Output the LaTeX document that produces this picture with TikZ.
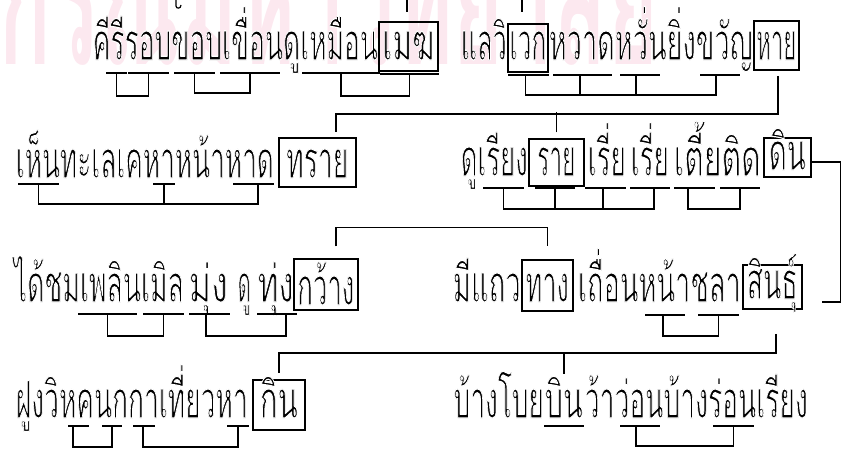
\documentclass[tikz,border=0pt]{standalone}
\usepackage{fontspec}
\usepackage{graphicx}
\newfontfamily\thaifont[Script=Thai]{Loma}
\newcommand{\thinon}{\special{pdf:literal direct q 2 Tr 1 1 1 RG 1.2 w 1 j}}
\newcommand{\thinoff}{\special{pdf:literal direct Q}}
\newcommand{\fitw}[2]{\thinon\resizebox{#1pt}{\height}{#2}\thinoff}
\newcommand{\fitwm}[2]{\resizebox{#1pt}{\height}{#2}}
\definecolor{wmpink}{RGB}{252,232,239}
\tikzset{
  txt/.style={anchor=base west, inner sep=0pt, font=\thaifont\fontsize{52}{56}\selectfont},
  wbox/.style={draw, inner sep=0pt, anchor=base west, font=\thaifont\fontsize{52}{56}\selectfont},
  ul/.style={inner sep=0pt, minimum height=0pt, anchor=west},
}
\begin{document}
\begin{tikzpicture}[x=1pt,y=-1pt,line width=1.5pt]
\useasboundingbox (0,0) rectangle (850,450);
% watermark
\node[anchor=base west, inner sep=0pt, text=wmpink, font=\thaifont\bfseries\fontsize{190}{200}\selectfont] (wm) at (-2,64) {\fitwm{660}{กรณ์มหาวิทยาลัย}};
% remnant of previous line
\draw[line width=1.2pt] (176,0) -- (176,6) .. controls (176,9) and (181,9) .. (181,5);
\coordinate (top1) at (407,0);
\coordinate (top2) at (522,0);
\draw (top1) -- ++(0,12);
\draw (top2) -- ++(0,12);

% ---------- row 1
\node[txt] (r1a) at (92,60) {\fitw{285}{คีรีรอบขอบเขื่อนดูเหมือน}};
\node[wbox, minimum width=59pt, text height=38pt, text depth=11pt] (megh) at (378,60) {\fitw{52}{เมฆ}};
\node[txt] (r1b) at (460,60) {\fitw{46}{แลวิ}};
\node[wbox, minimum width=40pt, text height=36pt, text depth=12pt] (wek) at (507,60) {\fitw{37}{เวก}};
\node[txt] (r1c) at (548,60) {\fitw{204}{หวาดหวั่นยิ่งขวัญ}};
\node[wbox, minimum width=45pt, text height=39pt, text depth=10pt] (hai) at (753,60) {\fitw{40}{หาย}};

% ---------- row 2
\node[txt] (r2a) at (15,178) {\fitw{258}{เห็นทะเลเคหาหน้าหาด}};
\node[wbox, minimum width=77pt, text height=40pt, text depth=9pt] (sai) at (278,178) {\fitw{62}{ทราย}};
\node[txt] (r2b) at (460,176) {\fitw{67}{ดูเรียง}};
\node[wbox, minimum width=55pt, text height=37pt, text depth=10pt] (raai) at (528,176) {\fitw{38}{ราย}};
\node[txt] (r2c) at (587,176) {\fitw{38}{เรี่ย}};
\node[txt] (r2d) at (630,176) {\fitw{38}{เรี่ย}};
\node[txt] (r2e) at (673,176) {\fitw{87}{เตี้ยติด}};
\node[wbox, minimum width=47pt, text height=32pt, text depth=7pt] (din) at (763,170) {\fitw{37}{ดิน}};

% ---------- row 3
\node[txt] (r3a) at (13,302) {\fitw{170}{ได้ชมเพลินเมิล}};
\node[txt] (r3b) at (188,302) {\fitw{39}{มุ่ง}};
\node[txt] (r3c) at (237,302) {\fitw{13}{ดู}};
\node[txt] (r3d) at (257,302) {\fitw{36}{ทุ่ง}};
\node[wbox, minimum width=64pt, text height=46pt, text depth=5pt] (kwang) at (293,305) {\fitw{57}{กว้าง}};
\node[txt] (r3e) at (452,302) {\fitw{68}{มีแถว}};
\node[wbox, minimum width=51pt, text height=42pt, text depth=9pt] (thang) at (521,302) {\fitw{43}{ทาง}};
\node[txt] (r3f) at (577,302) {\fitw{163}{เถื่อนหน้าชลา}};
\node[wbox, minimum width=59pt, text height=34pt, text depth=10pt] (sin) at (742,299) {\fitw{51}{สินธุ์}};

% ---------- row 4
\node[txt] (r4a) at (15,418) {\fitw{232}{ฝูงวิหคนกกาเที่ยวหา}};
\node[wbox, minimum width=52pt, text height=38pt, text depth=12pt] (kin) at (252,418) {\fitw{38}{กิน}};
\node[txt] (r4b) at (453,418) {\fitw{90}{บ้างโบย}};
\node[txt] (bin) at (544,418) {\fitw{38}{บิน}};
\node[txt] (r4c) at (584,418) {\fitw{223}{ว้าว่อนบ้างร่อนเรียง}};

% ---------- underlines
\node[ul, minimum width=19pt] (u1) at (106,73) {};
\node[ul, minimum width=39pt] (u2) at (128,73) {};
\node[ul, minimum width=39pt] (u3) at (174,73) {};
\node[ul, minimum width=58pt] (u4) at (220,73) {};
\node[ul, minimum width=76pt] (u5) at (302,73) {};
\node[ul, minimum width=57pt] (u6) at (380,74) {};
\node[ul, minimum width=39pt] (u7) at (508,75) {};
\node[ul, minimum width=57pt] (u8) at (553,75) {};
\node[ul, minimum width=38pt] (u9) at (620,75) {};
\node[ul, minimum width=38pt] (u10) at (700,75) {};
\node[ul, minimum width=39pt] (u11) at (18,184) {};
\node[ul, minimum width=20pt] (u12) at (153,184) {};
\node[ul, minimum width=39pt] (u13) at (233,184) {};
\node[ul, minimum width=39pt] (u14) at (483,188) {};
\node[ul, minimum width=38pt] (u15) at (535,188) {};
\node[ul, minimum width=39pt] (u16) at (585,188) {};
\node[ul, minimum width=38pt] (u17) at (630,188) {};
\node[ul, minimum width=39pt] (u18) at (674,188) {};
\node[ul, minimum width=38pt] (u19) at (720,188) {};
\node[ul, minimum width=57pt] (u20) at (78,314) {};
\node[ul, minimum width=39pt] (u21) at (143,314) {};
\node[ul, minimum width=39pt] (u22) at (189,314) {};
\node[ul, minimum width=38pt] (u23) at (257,314) {};
\node[ul, minimum width=38pt] (u24) at (645,315) {};
\node[ul, minimum width=39pt] (u25) at (698,315) {};
\node[ul, minimum width=19pt] (u26) at (68,426) {};
\node[ul, minimum width=18pt] (u27) at (102,426) {};
\node[ul, minimum width=20pt] (u28) at (133,426) {};
\node[ul, minimum width=20pt] (u29) at (227,426) {};
\node[ul, minimum width=38pt] (u30) at (544,426) {};
\node[ul, minimum width=38pt] (u31) at (620,426) {};
\node[ul, minimum width=39pt] (u32) at (713,426) {};
\foreach \i in {1,...,32} \draw (u\i.west) -- (u\i.east);

% ---------- brackets
\draw (u1.south) -- ++(0,22) -| (u2.south);
\draw (u3.south) -- ++(0,19) -| (u4.south);
\draw (u5.south) -- ++(0,22) -| ([yshift=1pt]u6.south);
\draw ([xshift=-3pt]u7.south) -- ++(0,19) -| ([xshift=-4pt]u10.south);
\draw ([xshift=-2.5pt]u8.south) -- ++(0,19);
\draw ([xshift=-4pt]u9.south) -- ++(0,19);
\draw (u11.south) -- ++(0,19) -| ([xshift=4.5pt]u13.south);
\draw (u12.south) -- ++(0,19);
\draw (u14.south) -- ++(0,20) -| ([xshift=4pt]u17.south);
\draw (u15.south) -- ++(0,20);
\draw ([xshift=-2.5pt]u16.south) -- ++(0,20);
\draw ([xshift=-6.5pt]u18.south) -- ++(0,20) -| (u19.south);
\draw (u20.south) -- ++(0,21) -| (u21.south);
\draw ([xshift=-3.5pt]u22.south) -- ++(0,21) -| ([xshift=9pt]u23.south);
\draw ([xshift=-2pt]u24.south) -- ++(0,20) -| (u25.south);
\draw ([xshift=-5.5pt]u26.south) -- ++(0,20) -| (u27.south);
\draw ([xshift=-1pt]u28.south) -- ++(0,20) -| (u29.south);
\draw ([xshift=-4pt]u31.south) -- ++(0,19) -| (u32.south);

% ---------- connectors between boxed words
\draw ([xshift=1.5pt,yshift=-5pt]hai.south) -- ++(0,38) -| ([xshift=18.5pt,yshift=5pt]sai.north);
\draw ([yshift=6pt]raai.north) -- ++(0,-20);
\draw ([yshift=-4.5pt]din.east) -- ++(29,0) |- ([xshift=19pt,yshift=-15pt]sin.east);
\draw ([xshift=10pt,yshift=12pt]kwang.north) -- ++(0,-19) -| ([yshift=13pt]thang.north);
\draw ([xshift=3.5pt,yshift=-24pt]sin.south) -- ++(0,19) coordinate (hj) -| ([yshift=6pt]kin.north);
\draw (hj -| bin.north) -- ++(0,21);
\end{tikzpicture}
\end{document}
